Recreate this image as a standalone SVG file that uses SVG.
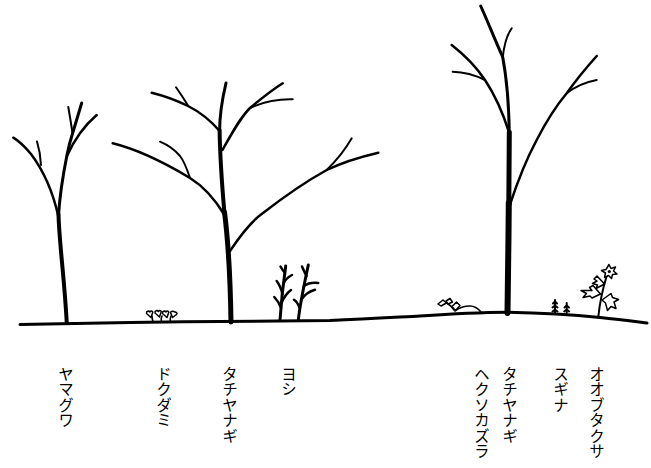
<svg xmlns="http://www.w3.org/2000/svg" width="651" height="468" viewBox="0 0 651 468">
<style>
  .br{fill:none;stroke:#000;stroke-linecap:round;stroke-linejoin:round}
  .w6{stroke-width:6}.w5{stroke-width:5}.w4{stroke-width:4}.w3{stroke-width:3}.w25{stroke-width:2.5}.w2{stroke-width:2}.w15{stroke-width:1.6}
  .lf{fill:#fff;stroke:#000;stroke-width:1.5;stroke-linejoin:round}
  .lbl{font-family:"Noto Sans CJK JP","Noto Sans CJK SC",sans-serif;font-size:15.5px;fill:#000;writing-mode:vertical-rl;text-orientation:upright}
</style>
<rect width="651" height="468" fill="#fff"/>

<g id="tree-yamaguwa">
  <path class="br w4" d="M66.7,322 C 64.5,280 59,240 58.5,214"/>
  <path class="br w3" d="M58.5,216 C 60,190 64,170 67,155 C 69,145 71,138 73,132 C 76,122 79,112 81.7,103"/>
  <path class="br w25" d="M58.5,217 C 53,192 43,170 31,154 C 25,147 19,141 13.3,137.7"/>
  <path class="br w2" d="M41,165 C 40.5,156 39,148 37,141.5"/>
  <path class="br w2" d="M72.5,133 C 71,123 69.5,114 68.3,107"/>
  <path class="br w25" d="M67,156 C 75,138 85,125 96.7,115"/>
</g>

<g id="tree-tachiyanagi-1">
  <path class="br w5" d="M231,322 C 230.5,290 228,240 224.5,212"/>
  <path class="br w4" d="M224.5,214 C 222,185 220,160 219.6,130"/>
  <path class="br w3" d="M219.6,132 C 219.5,115 222,100 226,83"/>
  <path class="br w25" d="M224.5,215 C 213,196 203,186 190,178 C 165,163 140,150 112.7,143.3"/>
  <path class="br w2" d="M190,178 C 187,169 184,161 180,156 C 174,149 168,145 160,141.7"/>
  <path class="br w25" d="M219.6,131 C 211,121 200,112 188,106 C 176,100 165,96 151.7,92.7"/>
  <path class="br w2" d="M188.3,106 C 184,99 180,93 176,87.3"/>
  <path class="br w25" d="M222.5,150 C 232,133 240,118 250,108 C 262,98 272,90 282.7,83.3"/>
  <path class="br w2" d="M250,108 C 265,101 280,99 292.7,99.3"/>
  <path class="br w25" d="M230,251 C 240,236 250,222 263,213 C 285,196 305,182 326.7,170 C 345,161 360,157 378.3,152.7"/>
  <path class="br w2" d="M326.7,170 C 337,160 345,150 351.7,138.3"/>
</g>

<g id="tree-tachiyanagi-2">
  <path class="br w6" d="M507.5,313 C 508,280 508.5,240 508.8,203"/>
  <path class="br w5" d="M508.8,205 C 509.1,180 509.3,155 509.3,132"/>
  <path class="br w3" d="M509.3,134 C 509,110 507,80 502.7,57 C 495,40 488,22 480.7,6"/>
  <path class="br w2" d="M502.7,58 C 504,45 507,35 511.7,28.3"/>
  <path class="br w25" d="M509.3,133 C 502,110 493,92 485,80 C 475,65 462,53 451.7,45"/>
  <path class="br w2" d="M485,80 C 475,75 463,72 452.7,71.7"/>
  <path class="br w25" d="M509.5,206 C 518,180 527,158 536.7,140 C 546,122 556,106 566.7,93.3 C 576,80 586,68 596.7,56"/>
  <path class="br w2" d="M566.7,93.3 C 576,86 586,82 596.7,80"/>
</g>

<g id="plant-dokudami">
  <path class="br w15" d="M152,316 C 152,318 152.5,320 153,322"/>
  <path class="br w15" d="M162,316 C 161,318 161,320 161.5,322"/>
  <path class="br w15" d="M171,316 C 170,318 170,320 170.5,322"/>
  <path class="lf" d="M151,317.5 L146.5,313.5 C 146,311 149,310.5 150,312 C 151,310.5 153.5,311 152.5,313 Z"/>
  <path class="lf" d="M159.5,317 L155,313 C 154.5,310.5 157.5,310 158.5,311.5 C 159.5,310 162,310.5 161,312.5 Z"/>
  <path class="lf" d="M167,317.5 L162.5,313.5 C 162,311 165,310.5 166,312 C 167,310.5 169.5,311 168.5,313 Z"/>
  <path class="lf" d="M172.5,317.5 L170.5,312.5 C 171,310.5 174,311 174.5,312 C 176,311.5 178,313.5 176.5,314.5 Z"/>
</g>

<g id="plant-yoshi">
  <path class="br w3" d="M280,320 C 281,305 283,285 285.7,266"/>
  <path class="br w25" d="M281,308 C 279.5,303 277,300 274.3,297"/>
  <path class="br w25" d="M282.5,294 C 281,288 279,284 276.7,281"/>
  <path class="br w25" d="M281.5,303 C 284,297 287,293 291,290"/>
  <path class="br w25" d="M283.5,284 C 285,279 288,277 292,275"/>
  <path class="br w25" d="M285,273 C 283,270.5 281.5,268.5 280.5,266.5"/>
  <path class="br w3" d="M298.3,320 C 300,305 304,285 308.3,265"/>
  <path class="br w25" d="M299.5,308 C 298,303 296,301 294,299.7"/>
  <path class="br w25" d="M301,300 C 305,294 310,291 315,289.7"/>
  <path class="br w25" d="M304,286 C 308,283 313,282.5 318.3,283"/>
  <path class="br w25" d="M306.5,276 C 304.5,272 303,269 302,266.5"/>
</g>

<g id="plant-hekusokazura">
  <path class="br w15" d="M455,311 C 460,307 465,306 470,306 C 475,306 478.5,309 481,312"/>
  <path class="br w15" d="M447,303 C 450,305 452,307 454,310"/>
  <path class="lf" d="M438,304 L443,300 L446.5,303 L441,306 Z"/>
  <path class="lf" d="M446,301 L450,298.5 L452.5,302 L448,304 Z"/>
  <path class="lf" d="M452,306.5 L456.5,302 L460,305.5 L455.5,310.5 Z"/>
</g>

<g id="plant-sugina">
  <path class="br w2" d="M555,313 L555,300"/>
  <path class="br w2" d="M552.5,311.5 L555,309.5 L557.5,311.5 M552.5,307.5 L555,305.5 L557.5,307.5 M553,303.5 L555,301.5 L557,303.5"/>
  <path class="br w2" d="M566.7,313 L566.7,303"/>
  <path class="br w2" d="M564.2,311.5 L566.7,309.5 L569.2,311.5 M564.5,307.5 L566.7,305.5 L569,307.5"/>
</g>

<g id="plant-oobutakusa">
  <path class="br w2" d="M598.3,317 C 600,300 603,288 606.7,276"/>
  <path class="lf" d="M600.5,294 L593,285.5 L589.5,287.5 L592,290.5 L581,290.5 L586.5,293.5 L583,297.5 L590,296 L592,298 Z"/>
  <path class="lf" d="M604.5,284 L597,276 L594,279 L597,281 L592.5,283.5 L597.5,285 L596,288.5 Z"/>
  <path class="lf" d="M602,300 L611,293.5 L612.5,297.5 L618.5,299.5 L614,302 L616,308.5 L611,306.5 L607.5,310.5 L605.5,303 Z"/>
  <path class="lf" d="M609,264.5 L611,268.5 L615.5,267 L613.5,271 L617,274 L612.5,274.5 L611.5,278.5 L608.5,275.5 L604.5,277.5 L605.5,273 L601.5,270.5 L606,269.5 Z"/>
  <circle cx="609.3" cy="271.5" r="1.6" fill="#000"/>
</g>

<g id="ground">
  <path class="br w3" d="M20,324.5 C 70,323.5 100,323 130,322.5 C 200,321.5 280,321 330,320.5 C 370,319 400,317 420,316 C 450,314 480,312.5 507,312.3 C 545,313 575,315 600,317.5 C 620,319.5 635,321.5 647,323"/>
</g>

<g id="labels">
  <text class="lbl" x="66" y="366">ヤマグワ</text>
  <text class="lbl" x="164" y="366">ドクダミ</text>
  <text class="lbl" x="230" y="366">タチヤナギ</text>
  <text class="lbl" x="289" y="366">ヨシ</text>
  <text class="lbl" x="482" y="366">ヘクソカズラ</text>
  <text class="lbl" x="510" y="366">タチヤナギ</text>
  <text class="lbl" x="561" y="366">スギナ</text>
  <text class="lbl" x="597" y="366">オオブタクサ</text>
</g>
</svg>
